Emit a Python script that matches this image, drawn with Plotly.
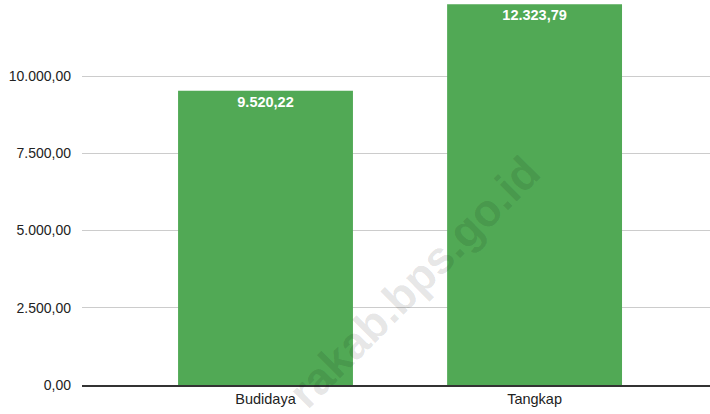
import plotly.graph_objects as go

categories = ["Budidaya", "Tangkap"]
values = [9520.22, 12323.79]
tick_vals = [0, 2500, 5000, 7500, 10000, 12500]

FONT = "Liberation Sans, Arial"

fig = go.Figure()
fig.add_trace(go.Bar(
    x=categories, y=values,
    marker=dict(color="#51a955", line=dict(width=0)),
    width=0.65,
    texttemplate="%{y:,.2f}",
    textposition="inside",
    insidetextanchor="end",
    textangle=0,
    textfont=dict(family=FONT, size=14.5, color="white", weight="bold"),
    hoverinfo="skip",
))

fig.add_annotation(
    text="rakab.bps.go.id", xref="paper", yref="paper",
    x=0.53, y=0.268, xanchor="center", yanchor="middle",
    showarrow=False, textangle=-45,
    font=dict(family=FONT, size=45, color="rgba(0,0,0,0.11)", weight="bold"),
)

fig.update_layout(
    width=710, height=414,
    margin=dict(l=82, r=0, t=0, b=29),
    plot_bgcolor="white", paper_bgcolor="white",
    separators=",.",
    showlegend=False,
    hovermode=False,
    xaxis=dict(
        range=[-0.682, 1.652],
        showline=True, linecolor="#333333", linewidth=1.5,
        showgrid=False, ticks="",
        tickfont=dict(family=FONT, size=14.5, color="#222222"),
        fixedrange=True,
    ),
    yaxis=dict(
        range=[0, 12460],
        tickvals=tick_vals,
        tickformat=",.2f",
        showgrid=True, gridcolor="#cccccc", gridwidth=1,
        zeroline=False, showline=False, ticks="",
        ticklabelstandoff=10,
        tickfont=dict(family=FONT, size=14, color="#222222"),
        fixedrange=True,
    ),
)

fig.write_html(
    "out.html",
    config={"displayModeBar": False, "staticPlot": True},
    post_script="document.body.style.margin='0';document.body.style.padding='0';",
)
